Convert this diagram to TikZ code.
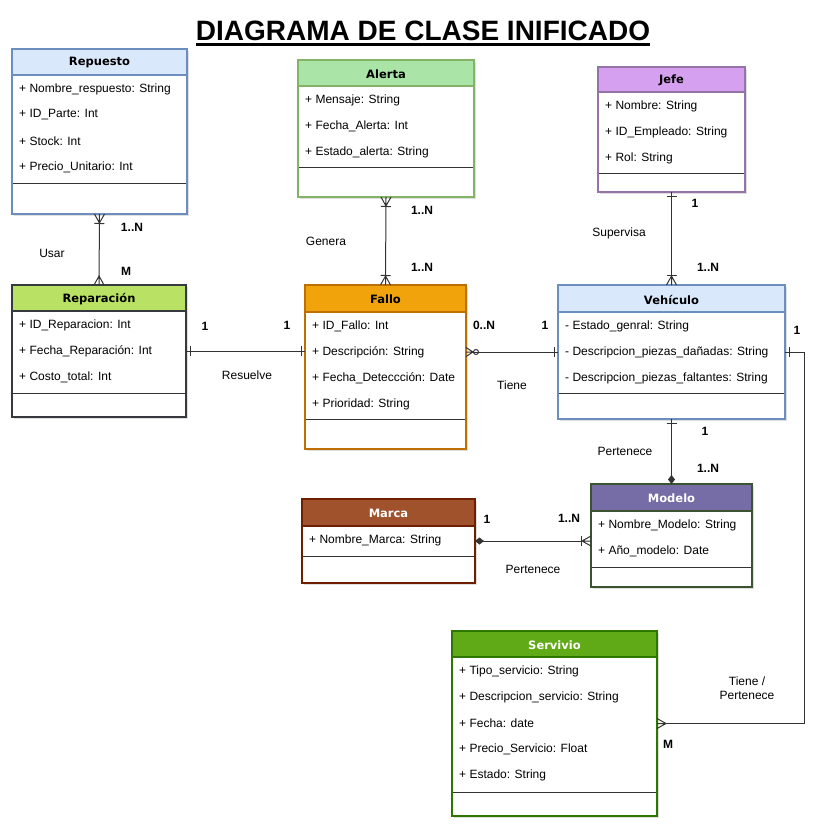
\documentclass[tikz,border=0pt]{standalone}
\usepackage{fontspec}
\setmainfont{Liberation Sans}
\newfontfamily\cabecera{DejaVu Sans}
\usetikzlibrary{arrows.meta,shadows}

% colores de las clases
\definecolor{repfill}{HTML}{DAE8FC}\definecolor{repline}{HTML}{6C8EBF}\colorlet{reptext}{black}
\definecolor{alefill}{HTML}{AAE4A6}\definecolor{aleline}{HTML}{82B366}\colorlet{aletext}{black}
\definecolor{jeffill}{HTML}{D6A0F0}\definecolor{jefline}{HTML}{9673A6}\colorlet{jeftext}{black}
\definecolor{rpcfill}{HTML}{B9E264}\definecolor{rpcline}{HTML}{36393D}\colorlet{rpctext}{black}
\definecolor{falfill}{HTML}{F0A30A}\definecolor{falline}{HTML}{BD7000}\colorlet{faltext}{black}
\definecolor{vehfill}{HTML}{DAE8FC}\definecolor{vehline}{HTML}{6C8EBF}\colorlet{vehtext}{black}
\definecolor{modfill}{HTML}{766CA6}\definecolor{modline}{HTML}{3A5431}\colorlet{modtext}{white}
\definecolor{marfill}{HTML}{A0522D}\definecolor{marline}{HTML}{6D1F00}\colorlet{martext}{white}
\definecolor{serfill}{HTML}{60A917}\definecolor{serline}{HTML}{2D7600}\colorlet{sertext}{white}

% pata de gallo (muchos)
\pgfdeclarearrow{
  name = Crow,
  defaults = {length = 9pt, width = 10pt},
  setup code = {
    \pgfarrowssettipend{0pt}
    \pgfarrowssetlineend{-\pgfarrowlength}
    \pgfarrowssetvisualbackend{-\pgfarrowlength}
    \pgfarrowssetbackend{-\pgfarrowlength}
    \pgfarrowshullpoint{0pt}{.5\pgfarrowwidth}
    \pgfarrowshullpoint{0pt}{-.5\pgfarrowwidth}
    \pgfarrowshullpoint{-\pgfarrowlength}{0pt}
    \pgfarrowssavethe\pgfarrowlength
    \pgfarrowssavethe\pgfarrowwidth
  },
  drawing code = {
    \pgfsetdash{}{0pt}
    \pgfsetlinewidth{1pt}
    \pgfpathmoveto{\pgfqpoint{0pt}{.5\pgfarrowwidth}}
    \pgfpathlineto{\pgfqpoint{-\pgfarrowlength}{0pt}}
    \pgfpathlineto{\pgfqpoint{0pt}{-.5\pgfarrowwidth}}
    \pgfpathmoveto{\pgfqpoint{-\pgfarrowlength}{0pt}}
    \pgfpathlineto{\pgfqpoint{0pt}{0pt}}
    \pgfusepathqstroke
  },
  parameters = {\the\pgfarrowlength,\the\pgfarrowwidth},
}
% barra (uno), un poco separada del borde
\pgfdeclarearrow{
  name = Uno,
  defaults = {length = 4pt, width = 10pt},
  setup code = {
    \pgfarrowssettipend{0pt}
    \pgfarrowssetlineend{-\pgfarrowlength}
    \pgfarrowssetvisualbackend{-\pgfarrowlength}
    \pgfarrowssetbackend{-\pgfarrowlength}
    \pgfarrowshullpoint{0pt}{0pt}
    \pgfarrowshullpoint{-\pgfarrowlength}{.5\pgfarrowwidth}
    \pgfarrowshullpoint{-\pgfarrowlength}{-.5\pgfarrowwidth}
    \pgfarrowssavethe\pgfarrowlength
    \pgfarrowssavethe\pgfarrowwidth
  },
  drawing code = {
    \pgfsetdash{}{0pt}
    \pgfsetlinewidth{1pt}
    \pgfpathmoveto{\pgfqpoint{0pt}{0pt}}
    \pgfpathlineto{\pgfqpoint{-\pgfarrowlength}{0pt}}
    \pgfpathmoveto{\pgfqpoint{-\pgfarrowlength}{.5\pgfarrowwidth}}
    \pgfpathlineto{\pgfqpoint{-\pgfarrowlength}{-.5\pgfarrowwidth}}
    \pgfusepathqstroke
  },
  parameters = {\the\pgfarrowlength,\the\pgfarrowwidth},
}

\tikzset{
  attr/.style={anchor=west, inner sep=0pt, font=\fontsize{12}{14}\selectfont},
  titulo/.style={inner sep=0pt, font=\cabecera\bfseries\fontsize{11.5}{14}\selectfont},
  etiq/.style={inner sep=0pt, font=\fontsize{12}{14}\selectfont},
  card/.style={inner sep=0pt, font=\bfseries\fontsize{12}{14}\selectfont},
  rel/.style={draw=black!80, line width=1pt},
  Muchos/.tip={Crow[]},
  UnoMuchos/.tip={Bar[width=10pt, line width=1pt] Crow[]},
  CeroMuchos/.tip={Circle[open, length=6pt, line width=1pt] Crow[length=7pt, width=9pt]},
  Compo/.tip={Diamond[length=9pt, width=7pt]},
}

% #1 nombre, #2 #3 esquina sup. izq., #4 #5 esquina inf. der.,
% #6 fin de cabecera, #7 separador, #8 colores, #9 titulo
\newcommand{\clase}[9]{%
  \fill[white, drop shadow={shadow xshift=2pt, shadow yshift=-2pt, opacity=.25}] (#2,#3) rectangle (#4,#5);
  \fill[#8fill] (#2,#3) rectangle (#4,#6);
  \draw[#8line, line width=1.5pt] (#2,#6) -- (#4,#6);
  \draw[black!80, line width=1pt] (#2,#7) -- (#4,#7);
  \node[draw=#8line, line width=1.5pt, inner sep=0pt, outer sep=0pt,
        minimum width={(#4-#2)*1pt}, minimum height={(#5-#3)*1pt}]
        (#1) at ({(#2+#4)/2},{(#3+#5)/2}) {};
  \node[titulo, text=#8text] (#1-titulo) at ({(#2+#4)/2},{(#3+#6)/2+1}) {#9};
}
% #1 clase, #2 borde izq., #3 fin de cabecera, #4 lista de atributos
\newcommand{\atributos}[4]{%
  \foreach \campo [count=\i from 0] in {#4}
    \node[attr] (#1-\i) at ({#2+7},{#3+14+26*\i}) {\campo};
}

\begin{document}
\begin{tikzpicture}[x=1pt, y=-1pt]
    \useasboundingbox (0,0) rectangle (823,832);
    \fill[white] (0,0) rectangle (823,832);
    % titulo
    \node[inner sep=0pt, font=\bfseries\fontsize{28}{32}\selectfont] (titulo) at (423,31) {DIAGRAMA DE CLASE INIFICADO};
    \draw[line width=2.5pt] ([yshift=-4pt]titulo.base west) -- ([yshift=-4pt]titulo.base east);
    % clases
    \clase{repuesto}{12}{49}{187}{214}{75}{183}{rep}{Repuesto}
    \atributos{repuesto}{12}{75}{+ Nombre\_respuesto: String, + ID\_Parte: Int, + Stock: Int, + Precio\_Unitario: Int}
    \clase{alerta}{298}{60}{474}{197}{86}{167}{ale}{Alerta}
    \atributos{alerta}{298}{86}{+ Mensaje: String, + Fecha\_Alerta: Int, + Estado\_alerta: String}
    \clase{jefe}{598}{67}{745}{192}{92}{173}{jef}{Jefe}
    \atributos{jefe}{598}{92}{+ Nombre: String, + ID\_Empleado: String, + Rol: String}
    \clase{reparacion}{12}{285}{186}{417}{311}{393}{rpc}{Reparación}
    \atributos{reparacion}{12}{311}{+ ID\_Reparacion: Int, + Fecha\_Reparación: Int, + Costo\_total: Int}
    \clase{fallo}{305}{285}{466}{449}{312}{419}{fal}{Fallo}
    \atributos{fallo}{305}{312}{+ ID\_Fallo: Int, + Descripción: String, + Fecha\_Deteccción: Date, + Prioridad: String}
    \clase{vehiculo}{558}{285}{785}{419}{312}{393}{veh}{Vehículo}
    \atributos{vehiculo}{558}{312}{- Estado\_genral: String, - Descripcion\_piezas\_dañadas: String, - Descripcion\_piezas\_faltantes: String}
    \clase{modelo}{591}{484}{752}{587}{511}{567}{mod}{Modelo}
    \atributos{modelo}{591}{511}{+ Nombre\_Modelo: String, + Año\_modelo: Date}
    \clase{marca}{302}{499}{475}{583}{526}{556}{mar}{Marca}
    \atributos{marca}{302}{526}{+ Nombre\_Marca: String}
    \clase{servicio}{452}{631}{657}{816}{657}{792}{ser}{Servivio}
    \atributos{servicio}{452}{657}{+ Tipo\_servicio: String, + Descripcion\_servicio: String, + Fecha: date, + Precio\_Servicio: Float, + Estado: String}
    % relaciones
    \draw[rel, UnoMuchos-Muchos] (repuesto.south) -- (reparacion.north);
    \draw[rel, UnoMuchos-UnoMuchos] (alerta.south) -- (fallo.north);
    \draw[rel, Uno-UnoMuchos] (jefe.south) -- (vehiculo.north);
    \draw[rel, Uno-Uno] (reparacion.east) -- (reparacion.east -| fallo.west);
    \draw[rel, CeroMuchos-Uno] (fallo.east |- vehiculo.west) -- (vehiculo.west);
    \draw[rel, Uno-Compo] (vehiculo.south) -- (modelo.north);
    \draw[rel, Compo-UnoMuchos] (marca.east) -- (marca.east -| modelo.west);
    \draw[rel, Uno-Muchos] (vehiculo.east) -- ++(19,0) |- (servicio.east);
    % etiquetas
    \node[card] (c1) at (132,227) {1..N};
    \node[card] (c2) at (126,271) {M};
    \node[etiq] (e1) at (52,253) {Usar};
    \node[card] (c3) at (422,210) {1..N};
    \node[card] (c4) at (422,267) {1..N};
    \node[etiq] (e2) at (326,241) {Genera};
    \node[card] (c5) at (695,203) {1};
    \node[card] (c6) at (708,267) {1..N};
    \node[etiq] (e3) at (619,233) {Supervisa};
    \node[card] (c7) at (205,326) {1};
    \node[card] (c8) at (287,325) {1};
    \node[etiq] (e4) at (247,375) {Resuelve};
    \node[card] (c9) at (484,325) {0..N};
    \node[card] (c10) at (545,325) {1};
    \node[etiq] (e5) at (512,385) {Tiene};
    \node[card] (c11) at (797,330) {1};
    \node[card] (c12) at (705,431) {1};
    \node[card] (c13) at (708,468) {1..N};
    \node[etiq] (e6) at (625,451) {Pertenece};
    \node[card] (c14) at (487,519) {1};
    \node[card] (c15) at (569,518) {1..N};
    \node[etiq] (e7) at (533,569) {Pertenece};
    \node[etiq, align=center] (e8) at (747,688) {Tiene /\\Pertenece};
    \node[card] (c16) at (668,744) {M};
\end{tikzpicture}
\end{document}
